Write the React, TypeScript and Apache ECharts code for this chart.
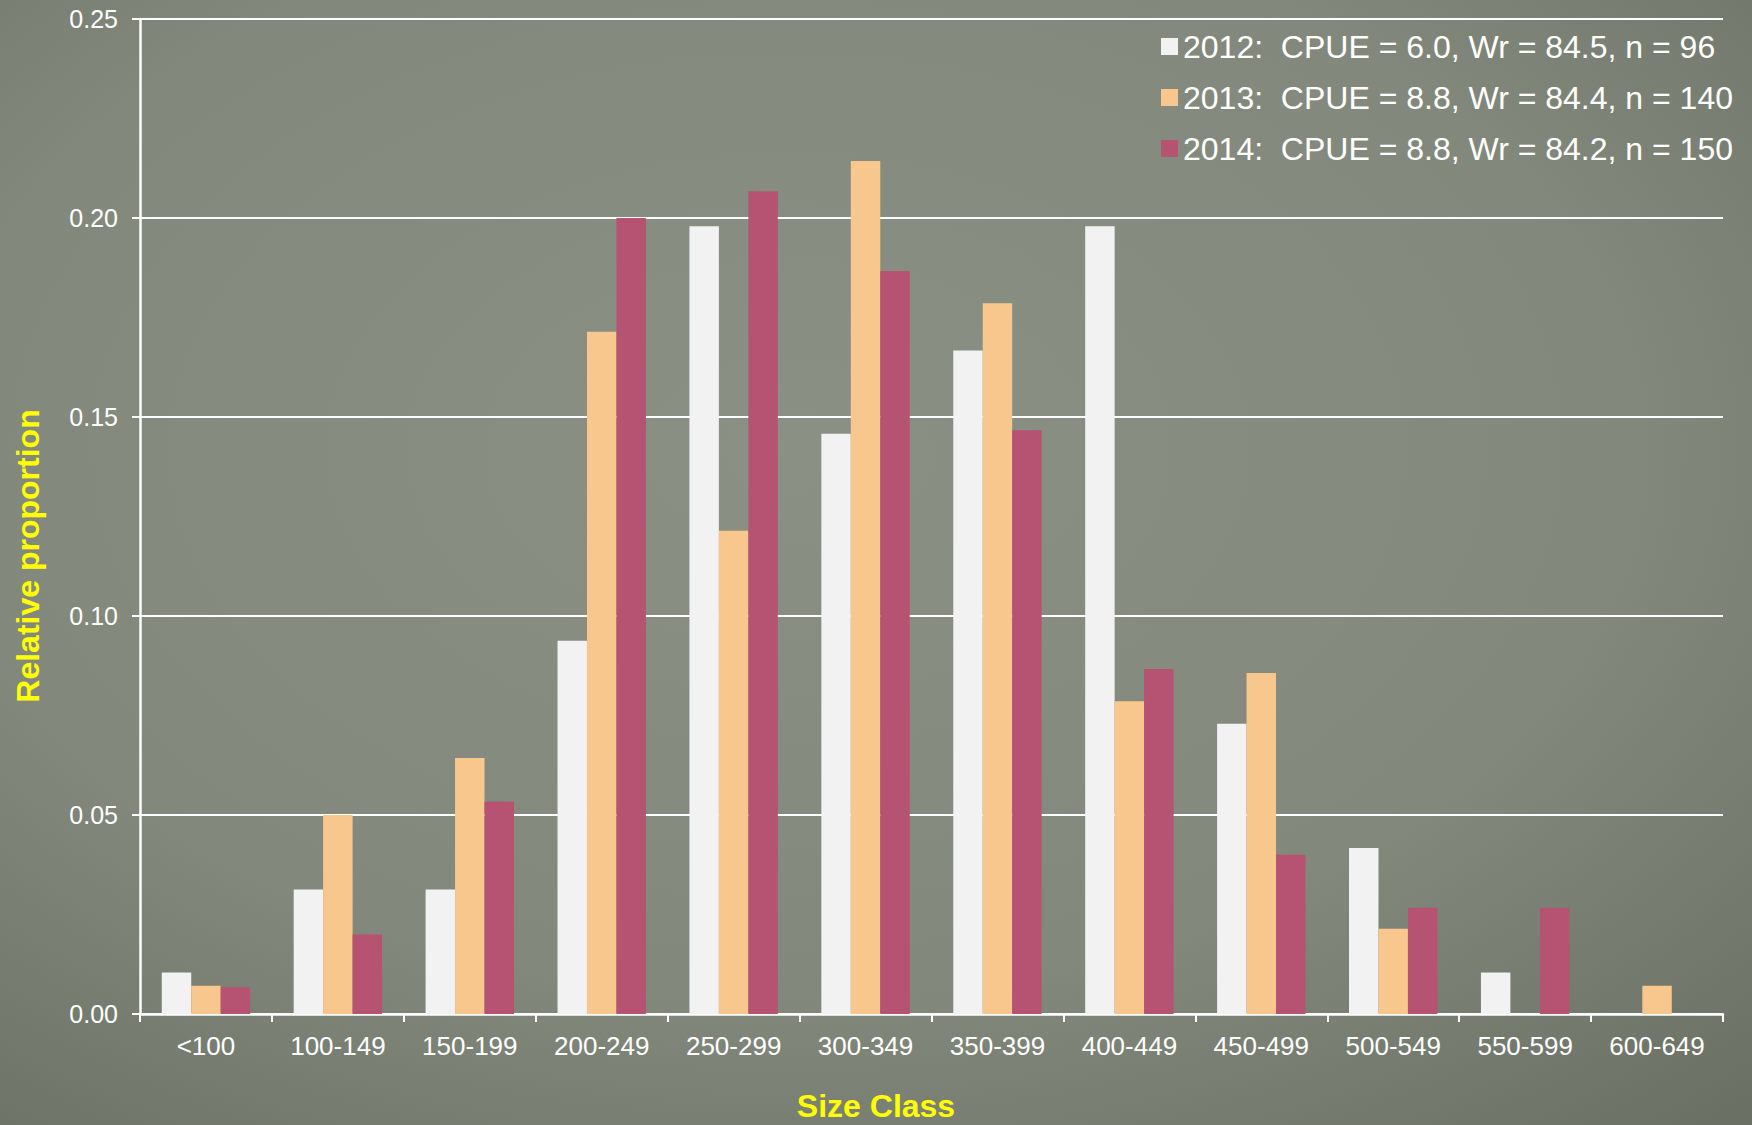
import React, { useEffect, useRef } from "react";
import * as echarts from "echarts";

const categories = ["<100", "100-149", "150-199", "200-249", "250-299", "300-349", "350-399", "400-449", "450-499", "500-549", "550-599", "600-649"];
const seriesNames = [
  "2012:  CPUE = 6.0, Wr = 84.5, n = 96",
  "2013:  CPUE = 8.8, Wr = 84.4, n = 140",
  "2014:  CPUE = 8.8, Wr = 84.2, n = 150",
];
const values2012 = [0.0104, 0.0313, 0.0313, 0.0938, 0.1979, 0.1458, 0.1667, 0.1979, 0.0729, 0.0417, 0.0104, 0];
const values2013 = [0.0071, 0.05, 0.0643, 0.1714, 0.1214, 0.2143, 0.1786, 0.0786, 0.0857, 0.0214, 0, 0.0071];
const values2014 = [0.0067, 0.02, 0.0533, 0.2, 0.2067, 0.1867, 0.1467, 0.0867, 0.04, 0.0267, 0.0267, 0];
const yTicks = { min: 0, max: 0.25, interval: 0.05 };
const colors = ["#F2F2F2", "#F8C78D", "#B65272"];

export default function App() {
  const ref = useRef<HTMLDivElement>(null);
  useEffect(() => {
    document.body.style.margin = "0";
    const chart = echarts.init(ref.current!, null, { renderer: "svg" });
    const font = "'Liberation Sans', Arial, Helvetica, sans-serif";
    const data = [values2012, values2013, values2014];
    chart.setOption({
      animation: false,
      backgroundColor: {
        type: "radial",
        x: 0.45,
        y: 0.4,
        r: 0.8,
        colorStops: [
          { offset: 0, color: "#8b9085" },
          { offset: 0.6, color: "#83887c" },
          { offset: 1, color: "#6b7064" },
        ],
      },
      textStyle: { fontFamily: font },
      grid: { left: 140, right: 29, top: 19, bottom: 111, containLabel: false },
      legend: {
        orient: "vertical",
        left: 1156,
        top: 24,
        itemWidth: 17,
        itemHeight: 17,
        itemGap: 16,
        icon: "rect",
        data: seriesNames,
        textStyle: { color: "#ffffff", fontSize: 32, fontFamily: font, lineHeight: 35 },
      },
      xAxis: {
        type: "category",
        data: categories,
        boundaryGap: true,
        axisLine: { lineStyle: { color: "#ffffff", width: 2.5 } },
        axisTick: { show: true, alignWithLabel: false, length: 8, lineStyle: { color: "#ffffff", width: 2 } },
        axisLabel: { color: "#ffffff", fontSize: 26, margin: 19, fontFamily: font, interval: 0 },
        splitLine: { show: false },
      },
      yAxis: {
        type: "value",
        min: yTicks.min,
        max: yTicks.max,
        interval: yTicks.interval,
        axisLine: { show: true, lineStyle: { color: "#ffffff", width: 2.5 } },
        axisTick: { show: true, length: 8, lineStyle: { color: "#ffffff", width: 2 } },
        axisLabel: {
          color: "#ffffff",
          fontSize: 25,
          margin: 22,
          fontFamily: font,
          formatter: (v: number) => v.toFixed(2),
        },
        splitLine: { show: true, lineStyle: { color: "#ffffff", width: 2 } },
      },
      graphic: [
        {
          type: "text",
          x: 876,
          y: 1106,
          style: {
            text: "Size Class",
            fill: "#FFFF00",
            font: `bold 32px ${font}`,
            align: "center",
            verticalAlign: "middle",
          },
        },
        {
          type: "text",
          x: 28,
          y: 556,
          rotation: Math.PI / 2,
          style: {
            text: "Relative proportion",
            fill: "#FFFF00",
            font: `bold 32px ${font}`,
            align: "center",
            verticalAlign: "middle",
          },
        },
      ],
      series: seriesNames.map((name, i) => ({
        name,
        type: "bar",
        data: data[i],
        barGap: "0%",
        barCategoryGap: "33%",
        itemStyle: { color: colors[i] },
      })),
    });
    return () => chart.dispose();
  }, []);
  return <div ref={ref} style={{ width: 1752, height: 1125 }} />;
}
